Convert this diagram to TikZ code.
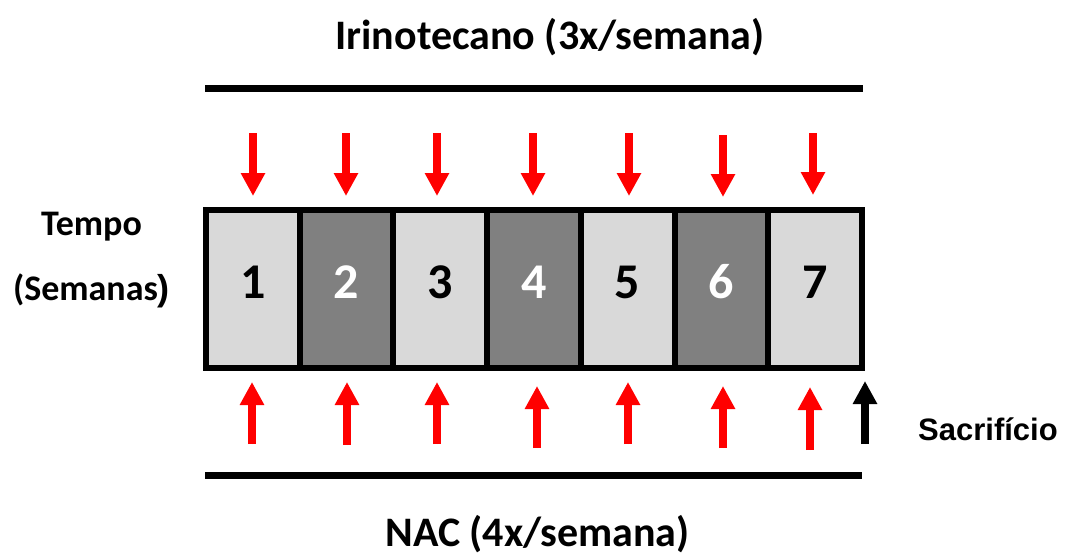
\documentclass[tikz,border=0pt]{standalone}
\usepackage{fontspec}
\setmainfont{Carlito}
\newfontfamily\arialfont{Liberation Sans}
\usetikzlibrary{arrows.meta}
\definecolor{lightcell}{HTML}{D9D9D9}
\definecolor{darkcell}{HTML}{808080}
\definecolor{arrred}{HTML}{FF0000}
\tikzset{
  cell/.style={draw=black, line width=6pt, minimum width=93.7pt, minimum height=158pt, inner sep=0pt},
  num/.style={anchor=base, font=\fontsize{50}{56}\selectfont\bfseries},
  bigtitle/.style={anchor=base, font=\fontsize{42}{48}\selectfont\bfseries},
  sidetxt/.style={anchor=base, font=\fontsize{36}{40}\selectfont\bfseries},
  blockarrow/.style={line width=8pt, -{Triangle[width=23pt,length=23pt]}},
  hbar/.style={line width=7pt}
}
\begin{document}
\begin{tikzpicture}[x=1pt,y=-1pt]
\useasboundingbox (0,0) rectangle (1068,557);
% titles
\node[bigtitle] (title) at (550,49) {Irinotecano (3x/semana)};
\node[bigtitle] (nac) at (537.5,546) {NAC (4x/semana)};
\node[sidetxt] (tempo) at (91.5,235) {Tempo};
\node[sidetxt] (semanas) at (91.5,300) {(Semanas{\arialfont)}};
\node[anchor=base, font=\arialfont\fontsize{31}{36}\selectfont\bfseries] (sacr) at (988,440) {Sacrifício};
% bars
\coordinate (tl) at (205,88.5);
\coordinate (tr) at (863,88.5);
\coordinate (bl) at (205,475);
\coordinate (br) at (862,475);
\draw[hbar] (tl) -- (tr);
\draw[hbar] (bl) -- (br);
% cells
\foreach \i/\col/\tc in {1/lightcell/black,2/darkcell/white,3/lightcell/black,4/darkcell/white,5/lightcell/black,6/darkcell/white,7/lightcell/black}{
  \node[cell, fill=\col] (c\i) at ({206+93.7*(\i-0.5)},289) {};
  \node[num, text=\tc] (n\i) at ({206+93.7*(\i-0.5)},298) {\i};
}
% down arrows
\foreach \i/\x/\a/\b in {1/253/133/196,2/346/133/196,3/437/133/196,4/533/133/196,5/629/133/196,6/723/135/197,7/813/133/195}{
  \coordinate (ds\i) at (\x,\a);
  \coordinate (de\i) at (\x,\b);
  \draw[blockarrow, draw=arrred, fill=arrred] (ds\i) -- (de\i);
}
% up arrows
\foreach \i/\x/\a/\b in {1/252/444/382,2/347/445/382,3/437/444/382,4/537/448/386,5/628/444/382,6/723/448/386,7/810/450/387}{
  \coordinate (us\i) at (\x,\a);
  \coordinate (ue\i) at (\x,\b);
  \draw[blockarrow, draw=arrred, fill=arrred] (us\i) -- (ue\i);
}
\coordinate (ks) at (865,444);
\coordinate (ke) at (865,381);
\draw[blockarrow, draw=black, fill=black] (ks) -- (ke);
\end{tikzpicture}
\end{document}
